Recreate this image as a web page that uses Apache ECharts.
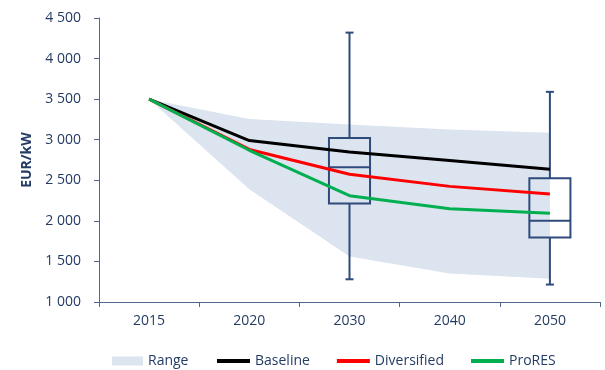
<!DOCTYPE html>
<html><head><meta charset="utf-8">
<script src="https://cdn.jsdelivr.net/npm/echarts@6/dist/echarts.min.js"></script>
<style>html,body{margin:0;padding:0;background:#fff}#c{width:605px;height:370px}</style>
</head><body><div id="c"></div>
<script>
const categories = ['2015', '2020', '2030', '2040', '2050'];
const baseline = [3500, 2990, 2850, 2745, 2635];
const diversified = [3500, 2880, 2575, 2425, 2330];
const proRES = [3500, 2870, 2310, 2150, 2095];
const rangeLow = [3500, 2390, 1560, 1350, 1285];
const rangeHigh = [3500, 3255, 3188, 3125, 3085];
// [categoryIndex, min, q1, median, q3, max]
const box2030 = [2, 1280, 2215, 2660, 3020, 4320];
const box2050 = [4, 1215, 1795, 2000, 2525, 3590];
const yTicks = [1000, 1500, 2000, 2500, 3000, 3500, 4000, 4500];

const FONT = 'Open Sans';
const TXT = '#243B64';
const AX = '#51668C';
const BOX = '#2E4B7B';
const AREA = '#DCE4EF';

const rangeDiff = rangeHigh.map((v, i) => v - rangeLow[i]);

const chart = echarts.init(document.getElementById('c'), null, {renderer: 'canvas'});
chart.setOption({
  animation: false,
  textStyle: {fontFamily: FONT},
  grid: {left: 99, right: 5, top: 18, bottom: 68},
  legend: [
    {left: 107, top: 349, itemWidth: 31, itemHeight: 9, icon: 'rect',
     textStyle: {fontFamily: FONT, fontSize: 14, color: TXT},
     data: [{name: 'Range', itemStyle: {color: AREA}}]},
    {left: 212, top: 349, itemWidth: 33, itemHeight: 4, icon: 'rect', itemGap: 27,
     textStyle: {fontFamily: FONT, fontSize: 14, color: TXT},
     data: ['Baseline', 'Diversified', 'ProRES']}
  ],
  xAxis: {
    type: 'category', data: categories, boundaryGap: true,
    axisLine: {lineStyle: {color: AX, width: 1}},
    axisTick: {show: true, length: 5, lineStyle: {color: AX}, alignWithLabel: false},
    axisLabel: {fontFamily: FONT, fontSize: 14, color: TXT, margin: 12},
    splitLine: {show: false}
  },
  yAxis: {
    type: 'value', min: yTicks[0], max: yTicks[yTicks.length - 1], interval: 500,
    name: 'EUR/kW', nameLocation: 'middle', nameGap: 64,
    nameTextStyle: {fontFamily: FONT, fontSize: 14, fontWeight: 'bold', color: TXT},
    axisLine: {show: true, lineStyle: {color: AX, width: 1}},
    axisTick: {show: true, length: 5, lineStyle: {color: AX}},
    axisLabel: {fontFamily: FONT, fontSize: 14, color: TXT, margin: 18,
      formatter: v => String(v).replace(/\B(?=(\d{3})+(?!\d))/g, ' ')},
    splitLine: {show: false}
  },
  series: [
    {name: 'RangeLow', type: 'line', stack: 'range', data: rangeLow, symbol: 'none',
     lineStyle: {opacity: 0}, silent: true, z: 1},
    {name: 'Range', type: 'line', stack: 'range', data: rangeDiff, symbol: 'none',
     lineStyle: {opacity: 0}, itemStyle: {color: AREA},
     areaStyle: {color: AREA, opacity: 1}, z: 1},
    {name: 'Boxes', type: 'custom', z: 2,
     data: [box2030, box2050],
     renderItem: function (params, api) {
       const x = api.value(0);
       const pMin = api.coord([x, api.value(1)]);
       const pQ1 = api.coord([x, api.value(2)]);
       const pMed = api.coord([x, api.value(3)]);
       const pQ3 = api.coord([x, api.value(4)]);
       const pMax = api.coord([x, api.value(5)]);
       const band = api.size([1, 0])[0];
       const hw = band * 0.205;
       const cw = 4;
       const cx = pMed[0];
       const st = {stroke: BOX, lineWidth: 2, fill: null};
       return {type: 'group', children: [
         {type: 'line', shape: {x1: cx, y1: pMax[1], x2: cx, y2: pQ3[1]}, style: st},
         {type: 'line', shape: {x1: cx, y1: pQ1[1], x2: cx, y2: pMin[1]}, style: st},
         {type: 'line', shape: {x1: cx - cw, y1: pMax[1], x2: cx + cw, y2: pMax[1]}, style: st},
         {type: 'line', shape: {x1: cx - cw, y1: pMin[1], x2: cx + cw, y2: pMin[1]}, style: st},
         {type: 'rect', shape: {x: cx - hw, y: pQ3[1], width: hw * 2, height: pQ1[1] - pQ3[1]}, style: {stroke: BOX, lineWidth: 2, fill: 'transparent'}},
         {type: 'line', shape: {x1: cx - hw, y1: pMed[1], x2: cx + hw, y2: pMed[1]}, style: st}
       ]};
     }},
    {name: 'Baseline', type: 'line', data: baseline, symbol: 'none', z: 3,
     lineStyle: {color: '#000000', width: 3}, itemStyle: {color: '#000000'}},
    {name: 'Diversified', type: 'line', data: diversified, symbol: 'none', z: 3,
     lineStyle: {color: '#FF0000', width: 3}, itemStyle: {color: '#FF0000'}},
    {name: 'ProRES', type: 'line', data: proRES, symbol: 'none', z: 4,
     lineStyle: {color: '#00B050', width: 3}, itemStyle: {color: '#00B050'}}
  ]
});
</script></body></html>
